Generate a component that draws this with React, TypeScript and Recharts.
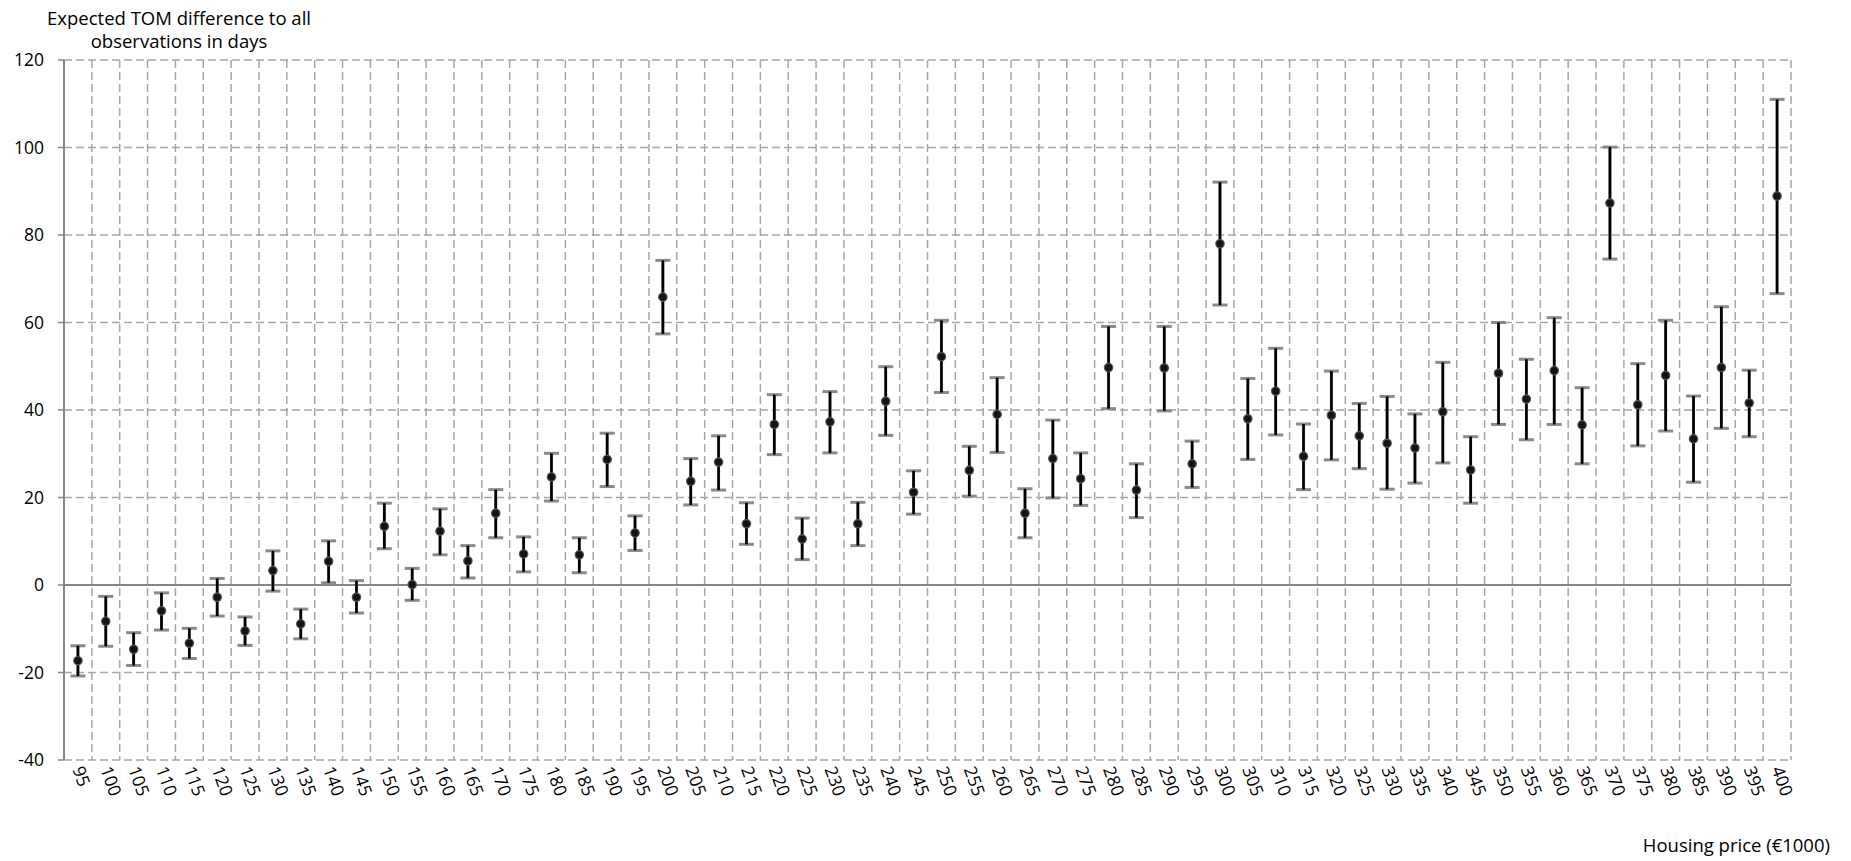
import { CartesianGrid, ErrorBar, ReferenceLine, Scatter, ScatterChart, XAxis, YAxis } from 'recharts';

// Housing price classes (€1000) and expected TOM difference with its interval bounds (days)
const PRICES = [
  95, 100, 105, 110, 115, 120, 125, 130, 135, 140, 145, 150, 155, 160, 165, 170, 175, 180, 185, 190,
  195, 200, 205, 210, 215, 220, 225, 230, 235, 240, 245, 250, 255, 260, 265, 270, 275, 280, 285, 290,
  295, 300, 305, 310, 315, 320, 325, 330, 335, 340, 345, 350, 355, 360, 365, 370, 375, 380, 385, 390,
  395, 400,
];
const MEAN = [
  -17.3, -8.3, -14.7, -5.9, -13.3, -2.8, -10.5, 3.3, -8.9, 5.4, -2.8, 13.4, 0.1, 12.3, 5.5, 16.4, 7.1,
  24.7, 6.9, 28.7, 11.9, 65.8, 23.7, 28.1, 14.0, 36.7, 10.5, 37.3, 14.0, 42.0, 21.2, 52.2, 26.2, 39.0,
  16.4, 28.9, 24.3, 49.7, 21.7, 49.6, 27.7, 78.0, 38.0, 44.3, 29.4, 38.8, 34.1, 32.4, 31.3, 39.6, 26.3,
  48.4, 42.5, 49.0, 36.6, 87.3, 41.2, 47.9, 33.4, 49.7, 41.6, 88.9,
];
const UPPER = [
  -13.9, -2.6, -10.9, -1.8, -9.9, 1.5, -7.3, 7.8, -5.5, 10.1, 1.0, 18.7, 3.8, 17.4, 9.0, 21.8, 11.0,
  30.1, 10.8, 34.7, 15.8, 74.2, 28.9, 34.1, 18.8, 43.5, 15.3, 44.2, 18.9, 49.9, 26.1, 60.5, 31.7, 47.4,
  22.0, 37.7, 30.2, 59.1, 27.7, 59.1, 32.9, 92.1, 47.2, 54.1, 36.8, 48.9, 41.5, 43.1, 39.1, 50.9, 33.9,
  60.0, 51.6, 61.1, 45.1, 100.1, 50.6, 60.5, 43.2, 63.6, 49.1, 111.0,
];
const LOWER = [
  -20.8, -14.0, -18.4, -10.3, -16.8, -7.1, -13.8, -1.4, -12.3, 0.5, -6.4, 8.3, -3.5, 6.9, 1.6, 10.8,
  3.0, 19.2, 2.8, 22.5, 7.9, 57.4, 18.3, 21.7, 9.3, 29.8, 5.8, 30.2, 9.0, 34.2, 16.2, 44.0, 20.3, 30.3,
  10.8, 19.9, 18.2, 40.3, 15.4, 39.8, 22.3, 64.0, 28.7, 34.3, 21.8, 28.6, 26.6, 21.9, 23.3, 27.9, 18.7,
  36.7, 33.2, 36.7, 27.7, 74.5, 31.8, 35.2, 23.5, 35.8, 33.9, 66.6,
];
const Y_TICKS = [-40, -20, 0, 20, 40, 60, 80, 100, 120];

const STEP = 5;
// class borders for the vertical grid lines
const BOUNDS = [...PRICES.map((p) => p - STEP / 2), PRICES[PRICES.length - 1] + STEP / 2];
const X_DOMAIN: [number, number] = [BOUNDS[0], BOUNDS[BOUNDS.length - 1]];

const rows = PRICES.map((price, i) => ({
  price,
  mean: MEAN[i],
  err: [MEAN[i] - LOWER[i], UPPER[i] - MEAN[i]],
}));

const FONT = '"Open Sans", sans-serif';
const AXIS_GREY = '#868686';
const GRID_GREY = '#a6a6a6';

function PriceTick({ x, y, payload }: any) {
  return (
    <text
      x={x}
      y={y}
      dy="0.35em"
      transform={`rotate(70 ${x} ${y})`}
      textAnchor="start"
      fontSize={17.5}
      fontFamily={FONT}
      fill="#000"
    >
      {payload.value}
    </text>
  );
}

function Dot({ cx, cy }: any) {
  return <circle cx={cx} cy={cy} r={4.2} fill="#141414" stroke="#555" strokeWidth={1.2} />;
}

export default function App() {
  return (
    <div
      style={{
        position: 'absolute',
        left: 0,
        top: 0,
        width: 1851,
        height: 861,
        background: '#fff',
        fontFamily: FONT,
      }}
    >
      <div
        style={{
          position: 'absolute',
          left: 29,
          top: 6,
          width: 300,
          textAlign: 'center',
          fontSize: 18.5,
          lineHeight: '23px',
          color: '#000',
        }}
      >
        Expected TOM difference to all
        <br />
        observations in days
      </div>
      <div
        style={{
          position: 'absolute',
          right: 21,
          top: 833,
          fontSize: 18.5,
          lineHeight: '23px',
          color: '#000',
          whiteSpace: 'nowrap',
        }}
      >
        Housing price (€1000)
      </div>
      <ScatterChart width={1851} height={861} margin={{ top: 60, right: 60, bottom: 0, left: 0 }}>
        <CartesianGrid
          xAxisId="price"
          verticalValues={BOUNDS}
          stroke={GRID_GREY}
          strokeWidth={1.5}
          strokeDasharray="8 4"
        />
        <XAxis
          xAxisId="price"
          type="number"
          dataKey="price"
          domain={X_DOMAIN}
          ticks={PRICES}
          interval={0}
          height={101}
          axisLine={false}
          tickLine={false}
          tickSize={0}
          tickMargin={7}
          tick={<PriceTick />}
        />
        <YAxis
          type="number"
          dataKey="mean"
          domain={[-40, 120]}
          ticks={Y_TICKS}
          interval={0}
          width={64}
          axisLine={{ stroke: AXIS_GREY, strokeWidth: 2 }}
          tickLine={{ stroke: AXIS_GREY, strokeWidth: 1.5 }}
          tickSize={6}
          tickMargin={14}
          tick={{ fill: '#000', fontSize: 17.5, fontFamily: FONT }}
        />
        <ReferenceLine y={0} xAxisId="price" stroke={AXIS_GREY} strokeWidth={2} />
        <Scatter
          data={rows}
          xAxisId="price"
          dataKey="mean"
          shape={<Dot />}
          isAnimationActive={false}
        >
          <ErrorBar dataKey="err" direction="y" width={7.5} stroke="#8a8a8a" strokeWidth={3} isAnimationActive={false} />
          <ErrorBar dataKey="err" direction="y" width={0} stroke="#000" strokeWidth={2.6} isAnimationActive={false} />
        </Scatter>
      </ScatterChart>
    </div>
  );
}
